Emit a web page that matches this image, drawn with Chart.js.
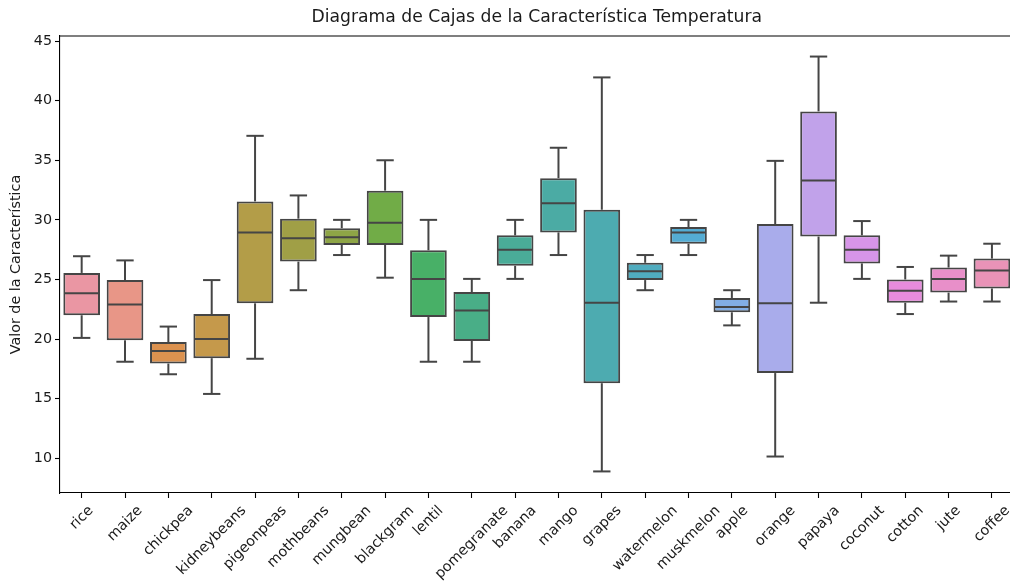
<!DOCTYPE html>
<html>
<head>
<meta charset="utf-8">
<script src="https://cdn.jsdelivr.net/npm/chart.js@4.4.0/dist/chart.umd.min.js"></script>
<style>
  html, body { margin: 0; padding: 0; background: #fff; overflow: hidden; }
  #wrap { width: 1020px; height: 583px; }
</style>
</head>
<body>
<div id="wrap"><canvas id="c" width="1020" height="583" style="width:1020px;height:583px"></canvas></div>
<script>
// Temperature distribution per crop (box-and-whisker summary)
const categories = ['rice', 'maize', 'chickpea', 'kidneybeans', 'pigeonpeas', 'mothbeans',
  'mungbean', 'blackgram', 'lentil', 'pomegranate', 'banana', 'mango', 'grapes',
  'watermelon', 'muskmelon', 'apple', 'orange', 'papaya', 'coconut', 'cotton', 'jute', 'coffee'];
const whiskerLow  = [20.1, 18.1, 17.05, 15.4, 18.35, 24.1, 27.05, 25.15, 18.1, 18.1, 25.05, 27.05, 8.9, 24.1, 27.05, 21.15, 10.15, 23.05, 25.05, 22.1, 23.15, 23.15];
const q1          = [22.0, 19.9, 17.95, 18.4, 23.0, 26.5, 27.9, 27.9, 21.85, 19.85, 26.15, 28.95, 16.3, 24.95, 28.0, 22.25, 17.15, 28.6, 26.35, 23.05, 23.9, 24.25];
const median      = [23.85, 22.9, 19.0, 20.0, 28.95, 28.45, 28.55, 29.75, 25.05, 22.4, 27.5, 31.4, 23.05, 25.7, 28.95, 22.7, 23.0, 33.3, 27.5, 24.05, 25.05, 25.75];
const q3          = [25.55, 24.95, 19.75, 22.1, 31.55, 30.1, 29.3, 32.45, 27.45, 23.95, 28.7, 33.5, 30.85, 26.4, 29.4, 23.45, 29.65, 39.1, 28.7, 25.0, 26.0, 26.75];
const whiskerHigh = [26.95, 26.6, 21.05, 24.95, 37.05, 32.05, 30.0, 35.0, 30.0, 25.05, 30.0, 36.05, 41.95, 27.05, 30.0, 24.1, 34.95, 43.7, 29.9, 26.05, 27.0, 28.0];
const yTicks = [10, 15, 20, 25, 30, 35, 40, 45];

// ---- HUSL palette (evenly spaced hues), then desaturated for patches ----
const HM = [[3.240969941904521, -1.537383177570093, -0.498610760293],
            [-0.96924363628087, 1.87596750150772, 0.041555057407175],
            [0.055630079696993, -0.20397695888897, 1.056971514242878]];
const refU = 0.19783000664283, refV = 0.46831999493879;
const kappa = 903.2962962, epsilon = 0.0088564516;

function maxChroma(L, H) {
  const hrad = H * Math.PI / 180, sinH = Math.sin(hrad), cosH = Math.cos(hrad);
  const sub1 = Math.pow(L + 16, 3) / 1560896.0;
  const sub2 = sub1 > 0.008856 ? sub1 : L / 903.3;
  let result = Infinity;
  for (const [m1, m2, m3] of HM) {
    const top = (0.99915 * m1 + 1.05122 * m2 + 1.14460 * m3) * sub2;
    const rbottom = 0.86330 * m3 - 0.17266 * m2;
    const lbottom = 0.12949 * m3 - 0.38848 * m1;
    const bottom = (rbottom * sinH + lbottom * cosH) * sub2;
    for (const t of [0, 1]) {
      const C = L * (top - 1.05122 * t) / (bottom + 0.17266 * sinH * t);
      if (C > 0 && C < result) result = C;
    }
  }
  return result;
}
function fInv(t) { return Math.pow(t, 3) > epsilon ? Math.pow(t, 3) : (116 * t - 16) / kappa; }
function fromLinear(c) { return c <= 0.0031308 ? 12.92 * c : 1.055 * Math.pow(c, 1 / 2.4) - 0.055; }
function huslToRgb(h, s, l) {
  const C = maxChroma(l, h) / 100 * s;
  const hr = h * Math.PI / 180;
  const U = Math.cos(hr) * C, V = Math.sin(hr) * C;
  const varY = fInv((l + 16) / 116);
  const varU = U / (13 * l) + refU, varV = V / (13 * l) + refV;
  const Y = varY;
  const X = 0 - (9 * Y * varU) / ((varU - 4) * varV - varU * varV);
  const Z = (9 * Y - 15 * varV * Y - varV * X) / (3 * varV);
  return HM.map(r => Math.min(1, Math.max(0, fromLinear(r[0] * X + r[1] * Y + r[2] * Z))));
}
function rgbToHls(r, g, b) {
  const mx = Math.max(r, g, b), mn = Math.min(r, g, b);
  const l = (mx + mn) / 2;
  if (mx === mn) return [0, l, 0];
  const s = l <= 0.5 ? (mx - mn) / (mx + mn) : (mx - mn) / (2 - mx - mn);
  const rc = (mx - r) / (mx - mn), gc = (mx - g) / (mx - mn), bc = (mx - b) / (mx - mn);
  let h = r === mx ? bc - gc : g === mx ? 2 + rc - bc : 4 + gc - rc;
  h = ((h / 6) % 1 + 1) % 1;
  return [h, l, s];
}
function hlsToRgb(h, l, s) {
  if (s === 0) return [l, l, l];
  const m2 = l <= 0.5 ? l * (1 + s) : l + s - l * s, m1 = 2 * l - m2;
  const v = (hue) => {
    hue = ((hue % 1) + 1) % 1;
    if (hue < 1 / 6) return m1 + (m2 - m1) * hue * 6;
    if (hue < 0.5) return m2;
    if (hue < 2 / 3) return m1 + (m2 - m1) * (2 / 3 - hue) * 6;
    return m1;
  };
  return [v(h + 1 / 3), v(h), v(h - 1 / 3)];
}
const toHex = (rgb) => '#' + rgb.map(c => Math.round(c * 255).toString(16).padStart(2, '0')).join('');

const n = categories.length;
const boxRgb = categories.map((_, i) => {
  const h = ((i / n + 0.01) % 1) * 359;
  const rgb = huslToRgb(h, 0.9 * 99, 0.7 * 99);
  const [hh, ll, ss] = rgbToHls(...rgb);
  return hlsToRgb(hh, ll, ss * 0.75);
});
const boxColors = boxRgb.map(toHex);
const lum = Math.min(...boxRgb.map(c => rgbToHls(...c)[1])) * 0.6;
const edgeColor = toHex([lum, lum, lum]);
const LW = 2;

const FONT = 'DejaVu Sans';
const TXT = '#1a1a1a';
const TICK_SIZE = 14.3;

// whiskers, caps and medians drawn with the chart's own scales
const whiskerPlugin = {
  id: 'whiskers',
  afterDatasetsDraw(chart) {
    const { ctx, scales: { x, y } } = chart;
    const meta = chart.getDatasetMeta(0);
    ctx.save();
    ctx.strokeStyle = edgeColor;
    ctx.lineWidth = LW;
    ctx.lineCap = 'butt';
    const seg = (x0, y0, x1, y1) => { ctx.beginPath(); ctx.moveTo(x0, y0); ctx.lineTo(x1, y1); ctx.stroke(); };
    categories.forEach((_, i) => {
      const bar = meta.data[i];
      const cx = x.getPixelForValue(i);
      const half = (bar.width - LW) / 2;   // centre line of the box outline
      const cap = half / 2;
      const yHi = y.getPixelForValue(whiskerHigh[i]);
      const yLo = y.getPixelForValue(whiskerLow[i]);
      seg(cx, y.getPixelForValue(q3[i]), cx, yHi);
      seg(cx - cap, yHi, cx + cap, yHi);
      seg(cx, y.getPixelForValue(q1[i]), cx, yLo);
      seg(cx - cap, yLo, cx + cap, yLo);
      const yMed = y.getPixelForValue(median[i]);
      seg(cx - half, yMed, cx + half, yMed);
    });
    ctx.restore();
  }
};

// top/right spines and the 45-degree category labels, centred under each tick
const framePlugin = {
  id: 'frame',
  afterDraw(chart) {
    const { ctx, chartArea: a, scales: { x } } = chart;
    ctx.save();
    ctx.strokeStyle = '#000';
    ctx.lineWidth = 1.1;
    ctx.beginPath();
    ctx.moveTo(a.left, a.top);
    ctx.lineTo(a.right, a.top);
    ctx.lineTo(a.right, a.bottom);
    ctx.stroke();

    ctx.font = TICK_SIZE + 'px "' + FONT + '"';
    ctx.fillStyle = TXT;
    ctx.textAlign = 'center';
    ctx.textBaseline = 'middle';
    const top = a.bottom + 9.6;
    const h = TICK_SIZE * 1.16;
    categories.forEach((label, i) => {
      const w = ctx.measureText(label).width;
      const cx = x.getPixelForValue(i);
      const cy = top + (w + h) * Math.SQRT1_2 / 2;
      ctx.save();
      ctx.translate(cx, cy);
      ctx.rotate(-Math.PI / 4);
      ctx.fillText(label, 0, 0);
      ctx.restore();
    });
    ctx.restore();
  }
};

new Chart(document.getElementById('c'), {
  type: 'bar',
  data: {
    labels: categories,
    datasets: [{
      data: categories.map((_, i) => [q1[i], q3[i]]),
      backgroundColor: boxColors,
      borderColor: edgeColor,
      borderWidth: LW,
      borderSkipped: false,
      barPercentage: 0.846,
      categoryPercentage: 1.0
    }]
  },
  options: {
    responsive: false,
    animation: false,
    devicePixelRatio: 1,
    layout: { padding: { left: 0, right: 6.4, top: 0, bottom: 0 } },
    plugins: {
      legend: { display: false },
      tooltip: { enabled: false },
      title: {
        display: true,
        fullSize: false,
        text: 'Diagrama de Cajas de la Característica Temperatura',
        color: TXT,
        font: { family: FONT, size: 17.2, weight: 'normal' },
        padding: { top: 7, bottom: 8.4 }
      }
    },
    scales: {
      x: {
        type: 'category',
        offset: true,
        grid: { display: true, offset: false, drawOnChartArea: false, drawTicks: true, tickLength: 5, tickColor: '#000', tickWidth: 1.1 },
        border: { display: true, color: '#000', width: 1.1 },
        ticks: { display: false, autoSkip: false },
        afterFit: (s) => { s.height = 90; }
      },
      y: {
        type: 'linear',
        min: 7.09,
        max: 45.42,
        grid: { display: true, drawOnChartArea: false, drawTicks: true, tickLength: 5, tickColor: '#000', tickWidth: 1.1 },
        border: { display: true, color: '#000', width: 1.1 },
        afterBuildTicks: (s) => { s.ticks = yTicks.map(v => ({ value: v })); },
        ticks: { padding: 3, color: TXT, font: { family: FONT, size: TICK_SIZE } },
        title: {
          display: true,
          text: 'Valor de la Característica',
          color: TXT,
          font: { family: FONT, size: TICK_SIZE },
          padding: { top: 8, bottom: 0 }
        },
        afterFit: (s) => { s.width = 60; }
      }
    }
  },
  plugins: [whiskerPlugin, framePlugin]
});
</script>
</body>
</html>
